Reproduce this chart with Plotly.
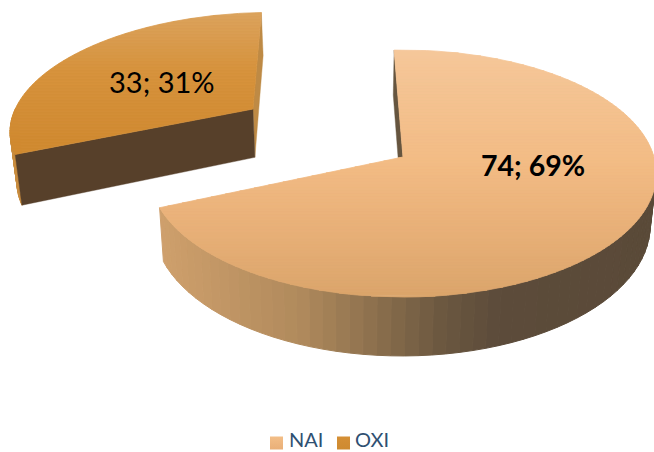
import numpy as np
import plotly.graph_objects as go

categories = ["NAI", "OXI"]
values = [74, 33]

# view geometry (pixels of the 654x452 canvas)
W, H = 654, 452
CX, CY = 403.0, 157.0
A, B = 251.0, 121.3
PERSP = 0.134
DEPTH = 51.0
VX, VSHRINK = 351.0, 0.02
START_DEG = -2.3
EXPLODE = 0.757
EXPLODE_TURN = 1.3

TOP_STOPS = [
    [(50, (245, 199, 154)), (160, (243, 188, 133)), (230, (232, 176, 120)), (297, (219, 165, 107))],
    [(13, (219, 162, 92)), (70, (214, 146, 60)), (140, (208, 138, 48))],
]
SIDE_STOPS = [
    [(158, (207, 160, 108)), (300, (176, 138, 92)), (440, (108, 88, 64)), (500, (92, 75, 58)), (660, (90, 74, 56))],
    [(0, (201, 141, 63)), (300, (201, 141, 63))],
]
STRIP_COLOR = ["#66553F", "#BE8A45"]
FRONT_COLOR = "#57402A"
LEGEND_COLOR = ["#F3BE87", "#D58F35"]
LEGEND_SHADE = ["#E9AF78", "#CE8A30"]
TEXT_COLOR = "#2F5072"


def project(wx, wy, z, ox=0.0, oy=0.0):
    wx = np.asarray(wx, float) + ox
    wy = np.asarray(wy, float) + oy
    s = 1.0 / (1.0 + PERSP * wy)
    sx = CX + A * wx * s
    sy = CY - B * wy * s + DEPTH * z * s
    sx = sx + z * VSHRINK * (VX - sx)
    return sx, sy


def ramp(stops, v):
    xs = [p[0] for p in stops]
    rgb = [np.interp(v, xs, [p[1][i] for p in stops]) for i in range(3)]
    return "rgb(%d,%d,%d)" % tuple(round(c) for c in rgb)


def clip(poly, y0, y1):
    def half(pts, keep, cross):
        out = []
        for i in range(len(pts)):
            a, b = pts[i], pts[(i + 1) % len(pts)]
            if keep(a):
                out.append(a)
            if keep(a) != keep(b):
                t = (cross - a[1]) / (b[1] - a[1])
                out.append((a[0] + t * (b[0] - a[0]), cross))
        return out
    pts = half(poly, lambda p: p[1] >= y0, y0)
    if pts:
        pts = half(pts, lambda p: p[1] <= y1, y1)
    return pts


def poly_trace(xs, ys, color, lw=1.0):
    return go.Scatter(
        x=list(xs) + [xs[0]], y=list(ys) + [ys[0]], mode="lines", fill="toself",
        fillcolor=color, line=dict(color=color, width=lw),
        hoverinfo="skip", showlegend=False,
    )


fig = go.Figure()
total = sum(values)
angles = np.cumsum([0] + [v / total * 360 for v in values]) + START_DEG

# exploded slice first (it sits behind), main slice afterwards
for idx in [1, 0]:
    a0, a1 = np.radians(angles[idx]), np.radians(angles[idx + 1])
    th = np.linspace(a0, a1, 90)
    ox = oy = 0.0
    if idx == 1:
        mid = (a0 + a1) / 2 + np.radians(EXPLODE_TURN)
        ox, oy = EXPLODE * np.sin(mid), EXPLODE * np.cos(mid)
    wx, wy = np.sin(th), np.cos(th)
    tx, ty = project(wx, wy, 0, ox, oy)
    bx, by = project(wx, wy, 1, ox, oy)
    ax, ay = project(0, 0, 0, ox, oy)
    cx, cy = project(0, 0, 1, ox, oy)
    ax, ay, cx, cy = float(ax), float(ay), float(cx), float(cy)

    # rim, front-facing part only
    for i in range(len(th) - 1):
        if wy[i] > 0.0:
            continue
        col = ramp(SIDE_STOPS[idx], (tx[i] + tx[i + 1]) / 2)
        fig.add_trace(poly_trace([tx[i], tx[i + 1], bx[i + 1], bx[i]], [ty[i], ty[i + 1], by[i + 1], by[i]], col))
    # radial faces
    if idx == 0:
        fig.add_trace(poly_trace([tx[0], bx[0], cx, ax], [ty[0], by[0], cy, ay], STRIP_COLOR[0], 0.4))
    else:
        fig.add_trace(poly_trace([tx[-1], bx[-1], cx, ax], [ty[-1], by[-1], cy, ay], STRIP_COLOR[1], 0.4))
        fig.add_trace(poly_trace([tx[0], bx[0], cx, ax], [ty[0], by[0], cy, ay], FRONT_COLOR, 0.4))
    # top surface in horizontal colour bands
    poly = list(zip(tx.tolist(), ty.tolist())) + [(ax, ay)]
    ymin, ymax = min(p[1] for p in poly), max(p[1] for p in poly)
    edges = np.arange(ymin, ymax + 3, 3.0)
    for y0, y1 in zip(edges[:-1], edges[1:]):
        part = clip(poly, y0, y1)
        if len(part) >= 3:
            fig.add_trace(poly_trace([p[0] for p in part], [p[1] for p in part], ramp(TOP_STOPS[idx], (y0 + y1) / 2), 0.8))

labels = [f"{v}; {round(v / total * 100)}%" for v in values]
fig.add_annotation(x=533, y=165, text=f"<b>{labels[0]}</b>", showarrow=False,
                   font=dict(family="Lato", size=28.5, color="#000000"))
fig.add_annotation(x=162, y=81, text=labels[1], showarrow=False,
                   font=dict(family="Lato", size=29, color="#000000"))

# legend row
for name, col, shade, mx, lx in zip(categories, LEGEND_COLOR, LEGEND_SHADE, [276.5, 343.5], [289, 355]):
    fig.add_trace(go.Scatter(
        x=[mx], y=[443], mode="markers", hoverinfo="skip", showlegend=False,
        marker=dict(symbol="square", size=13, color=col, line=dict(width=0),
                    gradient=dict(type="vertical", color=shade)),
    ))
    fig.add_annotation(x=lx, y=439, text=name, showarrow=False, xanchor="left",
                       xshift=-2, font=dict(family="Lato", size=20, color=TEXT_COLOR))

fig.update_layout(
    width=W, height=H, margin=dict(l=0, r=0, t=0, b=0),
    paper_bgcolor="white", plot_bgcolor="white", showlegend=False,
    xaxis=dict(range=[0, W], visible=False, fixedrange=True),
    yaxis=dict(range=[H, 0], visible=False, fixedrange=True),
)
fig.write_html("out.html", config={"displayModeBar": False},
               post_script="document.body.style.margin='0';")
